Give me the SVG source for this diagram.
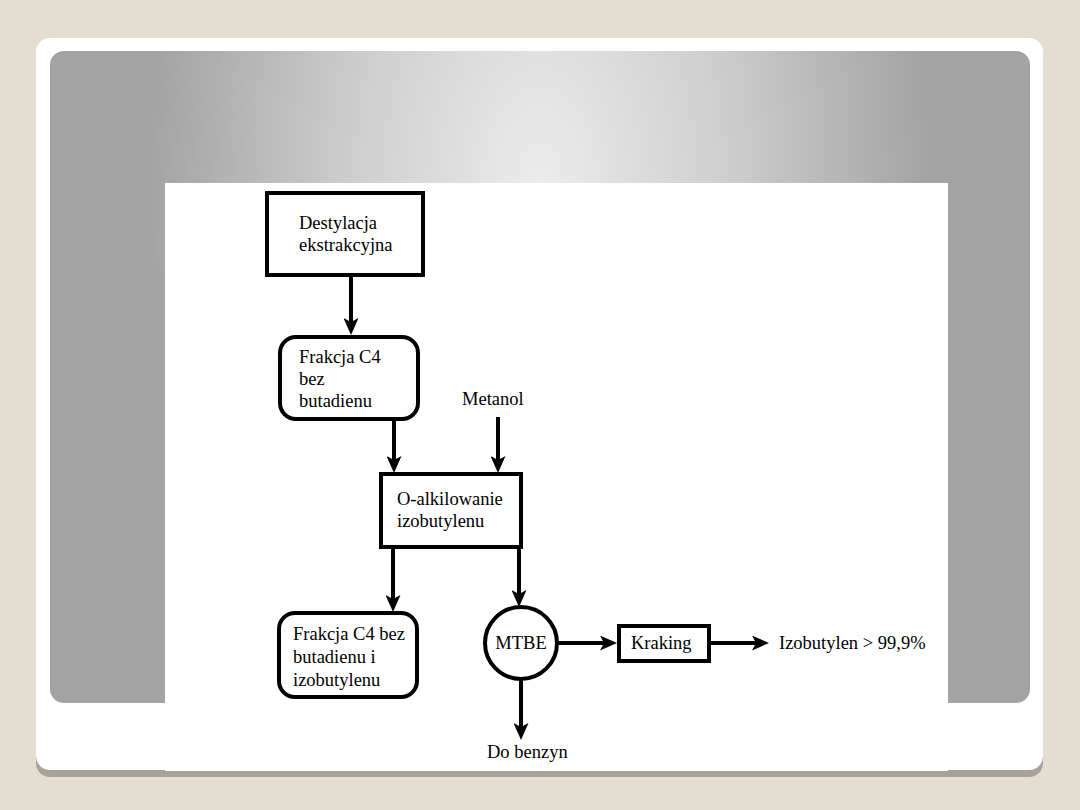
<svg xmlns="http://www.w3.org/2000/svg" width="1080" height="810" viewBox="0 0 1080 810">
<defs>
<radialGradient id="panelGrad" gradientUnits="userSpaceOnUse" cx="540" cy="190" r="390" gradientTransform="translate(540 190) scale(1 1.8) translate(-540 -190)">
<stop offset="0" stop-color="#ECECEC"/>
<stop offset="0.45" stop-color="#D0D0D0"/>
<stop offset="1" stop-color="#A3A3A3"/>
</radialGradient>
<marker id="arr" markerUnits="userSpaceOnUse" markerWidth="17" markerHeight="15" viewBox="0 0 17 15" refX="4" refY="7.5" orient="auto">
<path d="M0,0 L17,7.5 L0,15 L4,7.5 z" fill="#000"/>
</marker>
</defs>
<style>
.box{fill:#fff;stroke:#000;stroke-width:4}
.t{font-family:"Liberation Serif","Times New Roman",serif;font-size:18.5px;fill:#000}
.c line{stroke:#000;stroke-width:4;marker-end:url(#arr)}
</style>
<rect width="1080" height="810" fill="#E3DDD2"/>
<rect x="36" y="44" width="1007" height="733" rx="14" fill="#A8A398"/>
<rect x="36" y="38" width="1007" height="732" rx="14" fill="#FFFFFF"/>
<rect x="50" y="51" width="980" height="652" rx="14" fill="url(#panelGrad)"/>
<rect x="165" y="183" width="783" height="588" fill="#FFFFFF"/>

<g id="destylacja">
<rect class="box" x="267" y="193" width="156" height="82"/>
<text class="t" x="299" y="229">Destylacja</text>
<text class="t" x="299" y="251">ekstrakcyjna</text>
</g>
<g id="frakcja1">
<rect class="box" x="280" y="337" width="138" height="82" rx="16"/>
<text class="t" x="299" y="363">Frakcja C4</text>
<text class="t" x="299" y="385">bez</text>
<text class="t" x="299" y="407">butadienu</text>
</g>
<g id="metanol">
<text class="t" x="462" y="405">Metanol</text>
</g>
<g id="alkilowanie">
<rect class="box" x="381" y="474" width="140" height="73"/>
<text class="t" x="397" y="505">O-alkilowanie</text>
<text class="t" x="397" y="527">izobutylenu</text>
</g>
<g id="frakcja2">
<rect class="box" x="279" y="613" width="138" height="84" rx="16"/>
<text class="t" x="293" y="640">Frakcja C4 bez</text>
<text class="t" x="293" y="663">butadienu i</text>
<text class="t" x="293" y="686">izobutylenu</text>
</g>
<g id="mtbe">
<circle class="box" cx="521" cy="643" r="36"/>
<text class="t" x="521" y="649" text-anchor="middle">MTBE</text>
</g>
<g id="kraking">
<rect class="box" x="619" y="626" width="90" height="35"/>
<text class="t" x="631" y="649">Kraking</text>
</g>
<g id="izobutylen">
<text class="t" x="779" y="649">Izobutylen &gt; 99,9%</text>
</g>
<g id="benzyn">
<text class="t" x="487" y="758">Do benzyn</text>
</g>

<g class="c" id="connectors">
<line x1="351" y1="275" x2="351" y2="322"/>
<line x1="394" y1="419" x2="394" y2="460"/>
<line x1="498" y1="417" x2="498" y2="460"/>
<line x1="393" y1="547" x2="393" y2="599"/>
<line x1="519" y1="547" x2="519" y2="594"/>
<line x1="557" y1="643" x2="604" y2="643"/>
<line x1="709" y1="643" x2="756" y2="643"/>
<line x1="521" y1="679" x2="521" y2="727"/>
</g>
</svg>
